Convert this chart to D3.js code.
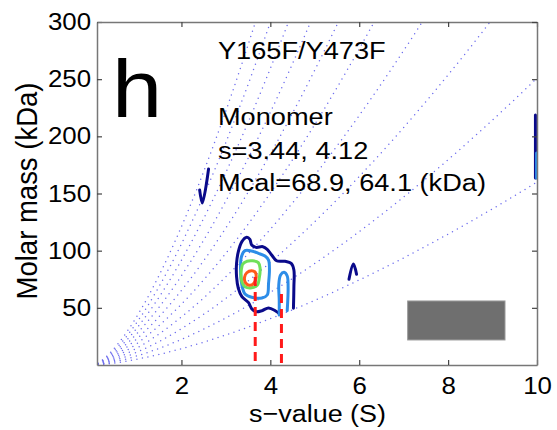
<!DOCTYPE html>
<html>
<head>
<meta charset="utf-8">
<script src="https://cdn.jsdelivr.net/npm/d3@7"></script>
<style>
  html, body { margin: 0; padding: 0; background: #fff; }
  svg text { font-family: "Liberation Sans", Arial, Helvetica, sans-serif; fill: #000; }
</style>
</head>
<body>
<div id="chart"></div>
<script>
// x ticks and y ticks
var xTicks = [2, 4, 6, 8, 10]
var yTicks = [50, 100, 150, 200, 250, 300]

// frictional ratio for each dotted guide curve (M at s=10 is 160 for the first one)
var ffRatios = [1.0, 1.35, 1.7, 2.05, 2.4, 2.75, 3.1, 3.45, 3.8, 4.15]
var guideM10 = 160

// contour lines, [s, M]
var navyLine = [[4.22,44.3],[4.11,47.5],[3.96,49.9],[3.81,47.5],[3.68,46.6],[3.58,49.3],[3.51,54.5],
  [3.36,59.8],[3.28,67.0],[3.24,77.2],[3.24,88.9],[3.28,99.1],[3.36,107.9],[3.47,111.7],[3.54,109.9],
  [3.58,105],[3.68,102.9],[3.83,103.5],[3.93,101.2],[4.03,96.2],[4.14,91.2],[4.33,90.7],[4.47,88.9],
  [4.53,83.1],[4.53,68.5],[4.52,49.6]]
var blueBlob = [[3.43,100],[3.58,99.7],[3.73,97.7],[3.88,95.3],[3.96,91.8],[3.98,83.1],[3.96,71.5],
  [3.93,61.2],[3.81,58.6],[3.58,59.2],[3.43,62.1],[3.36,70.0],[3.33,83.1],[3.35,94.7]]
var blueArch = [[4.20,43.7],[4.20,56.9],[4.19,70.0],[4.23,78.7],[4.31,81.1],[4.38,77.8],[4.40,68.5],[4.38,47.5]]
var greenLoop = [[3.38,88.3],[3.47,90.7],[3.60,91.2],[3.73,89.5],[3.77,84.6],[3.75,75.8],[3.71,70.0],
  [3.58,67.6],[3.43,68.5],[3.36,72.9],[3.34,80.2],[3.36,86.0]]
var orangeLoop = [[3.47,80.7],[3.58,82.5],[3.66,81.1],[3.68,76.7],[3.63,71.5],[3.53,69.7],[3.44,72.0],[3.42,76.7]]
var smallMarks = [
  {color: "#0a0a8a", pts: [[2.41,153],[2.47,141.7],[2.61,171.4]]},
  {color: "#0a0a8a", pts: [[5.77,75.0],[5.87,88.3],[5.94,79.4]]},
  {color: "#0a0a8a", pts: [[9.965,218.7],[9.965,163.6]]},
  {color: "#2d8de8", pts: [[9.99,185.4],[9.99,163.6]]}
]

// peak positions (red dashed lines)
var peakS = [3.66, 4.25]
var peakM = [77, 62]

// inset gel picture area [s0, s1, M0, M1]
var gelBox = [7.09, 9.28, 21.9, 56.0]

var textLines = ["Y165F/Y473F", "Monomer", "s=3.44, 4.12", "Mcal=68.9, 64.1 (kDa)"]

var W = 557, H = 430
var margin = {top: 22, right: 20, bottom: 65, left: 97}
var width = W - margin.left - margin.right   // 440
var height = H - margin.top - margin.bottom  // 343
var stretch = 1.1  // the figure is a bit wider than tall, text too

var svg = d3.select("#chart").append("svg")
  .attr("width", W).attr("height", H)

var g = svg.append("g")
  .attr("transform", "translate(" + margin.left + "," + margin.top + ")")

var x = d3.scaleLinear().domain([0.1, 10]).range([0, width])
var y = d3.scaleLinear().domain([0, 300]).range([height, 0])

svg.append("defs").append("clipPath").attr("id", "clip")
  .append("rect").attr("width", width).attr("height", height)

var plot = g.append("g").attr("clip-path", "url(#clip)")

// dotted guide curves M = M10 * (s/10 * ff)^1.5
var guide = d3.line().x(function(d) { return x(d[0]) }).y(function(d) { return y(d[1]) })
ffRatios.forEach(function(ff) {
  var pts = []
  for (var i = 0; i <= 400; i++) {
    var s = i * 0.025
    var m = guideM10 * Math.pow(s / 10 * ff, 1.5)
    pts.push([s, m])
    if (m > 320) break
  }
  plot.append("path")
    .datum(pts)
    .attr("d", guide)
    .attr("fill", "none")
    .attr("stroke", "#6f6fee")
    .attr("stroke-width", 1.5)
    .attr("stroke-linecap", "round")
    .attr("stroke-dasharray", "0 5.6")
})

// gel inset
plot.append("rect")
  .attr("x", x(gelBox[0])).attr("y", y(gelBox[3]))
  .attr("width", x(gelBox[1]) - x(gelBox[0]))
  .attr("height", y(gelBox[2]) - y(gelBox[3]))
  .attr("fill", "#6f6f6f")
  .attr("stroke", "#9a9a9a").attr("stroke-width", 1)

// contours
var smooth = d3.line().x(function(d) { return x(d[0]) }).y(function(d) { return y(d[1]) })
  .curve(d3.curveCatmullRom.alpha(0.5))
var smoothClosed = d3.line().x(function(d) { return x(d[0]) }).y(function(d) { return y(d[1]) })
  .curve(d3.curveCatmullRomClosed.alpha(0.5))

function contour(pts, color, closed) {
  plot.append("path")
    .datum(pts)
    .attr("d", closed ? smoothClosed : smooth)
    .attr("fill", "none")
    .attr("stroke", color)
    .attr("stroke-width", 3)
    .attr("stroke-linejoin", "round")
    .attr("stroke-linecap", "round")
}
contour(navyLine, "#0a0a8a", false)
contour(blueBlob, "#2d8de8", true)
contour(blueArch, "#2d8de8", false)
contour(greenLoop, "#6fe05a", true)
contour(orangeLoop, "#ff5a1a", true)
smallMarks.forEach(function(mk) { contour(mk.pts, mk.color, false) })

// red dashed peak lines
peakS.forEach(function(s, i) {
  plot.append("line")
    .attr("x1", x(s)).attr("x2", x(s))
    .attr("y1", y(peakM[i])).attr("y2", y(0))
    .attr("stroke", "#ff1a1a")
    .attr("stroke-width", 3)
    .attr("stroke-dasharray", "9 6")
})

// axes, ticks pointing inward like matlab
var xAxis = g.append("g").attr("transform", "translate(0," + height + ")")
  .call(d3.axisBottom(x).tickValues(xTicks).tickFormat(d3.format("d")).tickSizeInner(-5).tickSizeOuter(0).tickPadding(12))
var yAxis = g.append("g")
  .call(d3.axisLeft(y).tickValues(yTicks).tickFormat(d3.format("d")).tickSizeInner(-5).tickSizeOuter(0).tickPadding(6))
g.append("g")
  .call(d3.axisTop(x).tickValues(xTicks).tickFormat("").tickSizeInner(-5).tickSizeOuter(0))
g.append("g").attr("transform", "translate(" + width + ",0)")
  .call(d3.axisRight(y).tickValues(yTicks).tickFormat("").tickSizeInner(-5).tickSizeOuter(0))

g.selectAll(".domain").attr("stroke", "#777").attr("stroke-width", 1.5)
g.selectAll(".tick line").attr("stroke", "#444").attr("stroke-width", 1.2)
g.selectAll(".tick text")
  .style("font-size", "23.5px")
  .attr("transform", "scale(" + stretch + ",1)")
yAxis.selectAll(".tick text").attr("x", -6 / stretch)

// axis titles
function addText(px, py, str, size, anchor, rot) {
  return svg.append("text")
    .attr("transform", "translate(" + px + "," + py + ")" + (rot ? " rotate(" + rot + ")" : "") + " scale(" + stretch + ",1)")
    .attr("text-anchor", anchor || "start")
    .style("font-size", size + "px")
    .text(str)
}
addText(317.5, 422, "s\u2212value (S)", 24.5, "middle")
svg.append("text")
  .attr("transform", "translate(37,191) rotate(-90) scale(1,1.05)")
  .attr("text-anchor", "middle")
  .style("font-size", "27.5px")
  .text("Molar mass (kDa)")

// panel letter and annotation
addText(112, 117, "h", 82, "start")
var tY = [59, 125, 158.5, 191]
textLines.forEach(function(t, i) {
  addText(218, tY[i], t, 24.7, "start")
})
</script>
</body>
</html>
